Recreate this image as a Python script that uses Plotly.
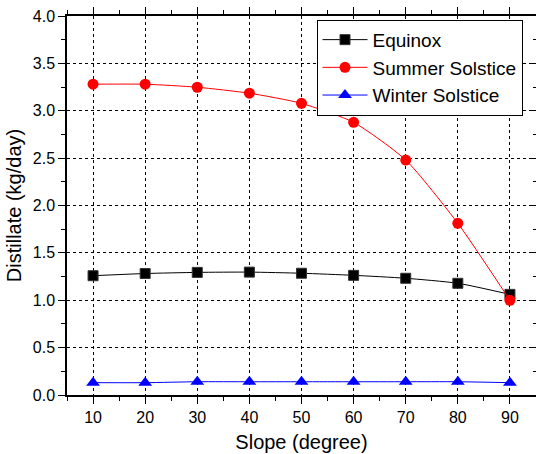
import plotly.graph_objects as go

slope = [10, 20, 30, 40, 50, 60, 70, 80, 90]
equinox = [1.259, 1.282, 1.294, 1.297, 1.285, 1.263, 1.232, 1.179, 1.062]
summer = [3.28, 3.28, 3.248, 3.185, 3.078, 2.878, 2.48, 1.812, 1.0]
winter = [0.13, 0.13, 0.14, 0.14, 0.14, 0.14, 0.14, 0.14, 0.13]

FONT = "Liberation Sans, Arial, sans-serif"

fig = go.Figure()
fig.add_trace(go.Scatter(
    x=slope, y=equinox, name="Equinox", mode="lines+markers",
    line=dict(color="black", width=1, shape="spline", smoothing=0.6),
    marker=dict(symbol="square", size=10, color="black", line=dict(color="#333", width=1)),
))
fig.add_trace(go.Scatter(
    x=slope, y=summer, name="Summer Solstice", mode="lines+markers",
    line=dict(color="red", width=1, shape="spline", smoothing=0.6),
    marker=dict(symbol="circle", size=11, color="red"),
))
fig.add_trace(go.Scatter(
    x=slope, y=winter, name="Winter Solstice", mode="lines+markers",
    line=dict(color="blue", width=1, shape="spline", smoothing=0.6),
    marker=dict(symbol="triangle-up", size=12, color="blue"),
))
# helper trace to activate the right-hand inward-tick axis
fig.add_trace(go.Scatter(x=slope, y=equinox, yaxis="y2", mode="none",
                         showlegend=False, hoverinfo="skip"))

fig.update_layout(
    width=536, height=454,
    margin=dict(l=67, r=0, t=16, b=59, autoexpand=False),
    paper_bgcolor="white", plot_bgcolor="white",
    font=dict(family=FONT, color="black", size=16),
    showlegend=True,
    legend=dict(
        x=0.532, y=0.99, xanchor="left", yanchor="top",
        bgcolor="white", bordercolor="black", borderwidth=1,
        font=dict(family=FONT, size=19, color="black"),
        itemwidth=45, tracegroupgap=0,
    ),
    xaxis=dict(
        range=[5, 95], tickmode="array", tickvals=slope, automargin=False,
        ticks="outside", ticklen=7, tickwidth=1.2, tickcolor="black",
        showline=True, linecolor="black", linewidth=1.5, mirror="ticks",
        showgrid=True, gridcolor="black", gridwidth=1, griddash="dot",
        zeroline=False,
        minor=dict(dtick=5, tick0=5, ticks="outside", ticklen=4, tickcolor="black", showgrid=False),
        title=dict(text="Slope (degree)", font=dict(size=20), standoff=10),
        tickfont=dict(size=16),
    ),
    yaxis=dict(
        range=[0, 4], dtick=0.5, tick0=0, tickformat=".1f", automargin=False,
        ticks="outside", ticklen=7, tickwidth=1.2, tickcolor="black",
        showline=True, linecolor="black", linewidth=1.5, mirror="ticks",
        showgrid=True, gridcolor="black", gridwidth=1, griddash="dot",
        zeroline=False,
        minor=dict(dtick=0.25, tick0=0, ticks="outside", ticklen=4, tickcolor="black", showgrid=False),
        title=dict(text="Distillate (kg/day)", font=dict(size=20), standoff=6),
        tickfont=dict(size=16),
    ),
    yaxis2=dict(
        overlaying="y", side="right", range=[0, 4], dtick=0.5, tick0=0, automargin=False,
        ticks="inside", ticklen=6, tickwidth=1.2, tickcolor="black",
        showticklabels=False, showgrid=False, zeroline=False, showline=False,
        minor=dict(dtick=0.25, tick0=0, ticks="inside", ticklen=3, tickcolor="black"),
    ),
)

fig.write_html("out.html")
